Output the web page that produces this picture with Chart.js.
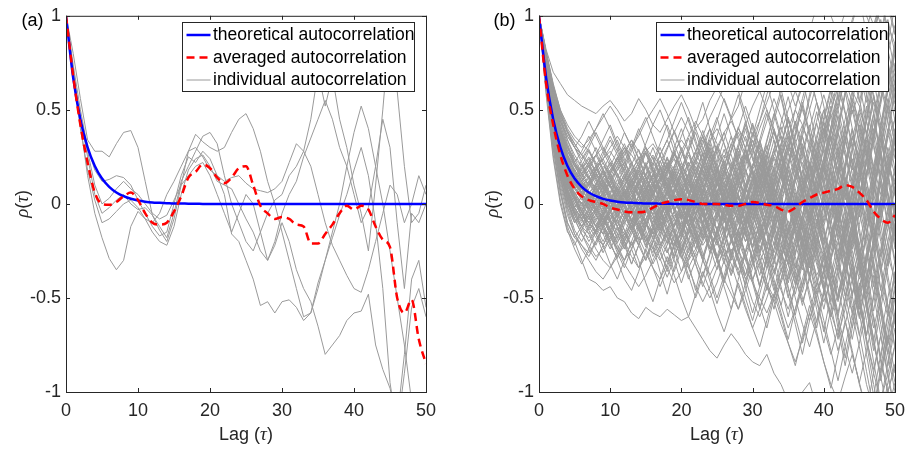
<!DOCTYPE html>
<html><head><meta charset="utf-8">
<script src="https://cdn.jsdelivr.net/npm/chart.js@4/dist/chart.umd.min.js"></script>
<style>
html,body{margin:0;padding:0;background:#fff;width:913px;height:451px;overflow:hidden}
canvas{position:absolute;top:0}
#c1{left:0}#c2{left:456px}
</style></head>
<body>
<canvas id="c1" width="456" height="451" style="width:456px;height:451px"></canvas>
<canvas id="c2" width="457" height="451" style="width:457px;height:451px"></canvas>
<script>
// ---------- data ----------
const lags = [0,1,2,3,4,5,6,7,8,9,10,11,12,13,14,15,16,17,18,19,20,21,22,23,24,25,26,27,28,29,30,31,32,33,34,35,36,37,38,39,40,41,42,43,44,45,46,47,48,49,50];
const xTicks = [0,10,20,30,40,50];
const xTickLabels = ['0','10','20','30','40','50'];
const yTicks = [-1,-0.5,0,0.5,1];
const yTickLabels = ['-1','-0.5','0','0.5','1'];
const legendLabels = ['theoretical autocorrelation','averaged autocorrelation','individual autocorrelation'];
const panelLabels = ['(a)','(b)'];

const theoretical = [1,0.670,0.449,0.301,0.202,0.135,0.091,0.061,0.041,0.027,
 0.018,0.012,0.008,0.006,0.004,0.002,0.002,0.001,0.001,0,
 0,0,0,0,0,0,0,0,0,0, 0,0,0,0,0,0,0,0,0,0, 0,0,0,0,0,0,0,0,0,0, 0];

// panel (a)
const averagedA = [1,0.68,0.42,0.22,0.06,0.0,-0.005,0.01,0.04,0.06,
 0.02,-0.05,-0.1,-0.11,-0.1,-0.04,0.04,0.14,0.17,0.21,
 0.19,0.14,0.11,0.14,0.19,0.2,0.1,-0.01,-0.05,-0.08,
 -0.07,-0.08,-0.11,-0.12,-0.21,-0.21,-0.16,-0.11,-0.05,-0.01,
 -0.03,-0.01,-0.03,-0.12,-0.19,-0.23,-0.5,-0.58,-0.51,-0.72,
 -0.85];
const a1 = [1,0.80,0.56,0.34,0.28,0.28,0.25,0.32,0.38,0.39,
 0.30,0.12,-0.06,-0.14,-0.20,-0.08,0.10,0.28,0.37,0.33,
 0.30,0.28,0.30,0.38,0.45,0.48,0.40,0.28,0.12,0.00,
 -0.15,-0.30,-0.45,-0.60,-0.58,-0.42,-0.30,-0.18,-0.06,0.05,
 0.18,0.30,0.15,-0.10,-0.45,-0.95,-1.2,-0.9,-0.55,-0.45,
 -0.6];
const a2 = [1,0.72,0.42,0.15,-0.05,-0.18,-0.29,-0.35,-0.30,-0.12,
 -0.04,-0.08,-0.10,-0.05,0.05,0.12,0.20,0.28,0.30,0.25,
 0.18,0.15,0.12,0.14,0.15,0.11,0.08,0.07,0.06,0.08,
 0.12,0.22,0.32,0.28,0.20,0.05,-0.10,-0.22,-0.30,-0.38,
 -0.45,-0.47,-0.35,-0.20,-0.05,0.10,0.05,-0.10,0.00,0.15,
 0.05];
const a3 = [1,0.74,0.50,0.30,0.18,0.12,0.13,0.15,0.14,0.10,
 0.02,-0.05,-0.12,-0.17,-0.15,0.00,0.15,0.25,0.22,0.28,
 0.24,0.15,0.05,-0.16,-0.20,-0.30,-0.40,-0.54,-0.52,-0.58,
 -0.52,-0.51,-0.55,-0.62,-0.58,-0.45,-0.30,-0.15,0.00,0.20,
 0.38,0.52,0.40,0.20,0.00,-0.25,-0.50,-0.75,-1.05,-1.2,
 -1.1];
const a4 = [1,0.70,0.46,0.25,0.05,-0.05,-0.02,0.02,0.05,0.00,
 -0.03,-0.02,-0.06,-0.12,-0.18,-0.05,0.12,0.20,0.28,0.36,
 0.38,0.32,0.15,0.00,-0.10,-0.20,-0.25,-0.15,-0.05,0.02,
 0.05,0.15,0.20,0.28,0.45,0.70,0.52,0.68,0.45,0.30,
 0.10,-0.05,-0.25,0.10,0.50,0.95,0.60,0.20,-0.10,-0.05,
 0.10];
const a5 = [1,0.68,0.40,0.18,0.02,-0.10,-0.08,-0.04,0.00,0.02,
 -0.02,-0.08,-0.15,-0.20,-0.22,-0.12,0.05,0.18,0.24,0.26,
 0.20,0.12,0.10,0.08,0.00,-0.08,-0.15,-0.25,-0.30,-0.22,
 -0.10,-0.20,-0.35,-0.45,-0.52,-0.65,-0.80,-0.75,-0.70,-0.62,
 -0.58,-0.57,-0.48,-0.75,-0.88,-0.98,-1.15,-0.80,-0.40,-0.30,
 -0.55];
const a6 = [1,0.66,0.44,0.28,0.10,0.00,0.03,0.08,0.12,0.08,
 0.05,0.00,-0.05,-0.08,-0.06,0.02,0.10,0.15,0.20,0.22,
 0.15,0.05,-0.05,-0.15,-0.05,0.05,0.00,-0.15,-0.30,-0.20,
 -0.05,0.05,0.12,0.25,0.35,0.45,0.55,0.45,0.30,0.20,
 0.05,-0.10,-0.02,0.20,0.45,0.30,-0.10,-0.45,-0.05,-0.10,
 0.00];
const individualA = [a1,a2,a3,a4,a5,a6];

// panel (b)
const averagedB = [1,0.64,0.42,0.26,0.15,0.08,0.04,0.02,0.01,0.0,
 -0.02,-0.03,-0.04,-0.045,-0.045,-0.04,-0.02,0.0,0.01,0.02,
 0.025,0.02,0.01,0.0,0.0,0.0,-0.005,-0.01,-0.01,0.0,
 0.01,0.005,-0.005,-0.01,-0.03,-0.04,-0.02,0.01,0.03,0.05,
 0.06,0.07,0.08,0.1,0.09,0.06,0.02,-0.04,-0.08,-0.1,
 -0.06];
const b01=[1,.82,.70,.64,.58,.55,.52,.50,.48,.52,.55,.50,.44,.48,.56,.50,.42,.38,.45,.52,.58,.50,.40,.45,.55,.62,.55,.45,.52,.66,.75,.68,.60,.72,.86,.95,.88,.80,.92,1.05,1.1,1.0,.9,1.02,1.1,1.15,1.05,.95,1.08,1.2,1.1];
const b02=[1,.58,.24,.00,-.15,-.20,-.30,-.40,-.42,-.46,-.44,-.50,-.52,-.58,-.61,-.55,-.58,-.60,-.56,-.59,-.62,-.60,-.66,-.72,-.78,-.82,-.75,-.69,-.74,-.80,-.84,-.86,-.80,-.90,-.96,-1.05,-1.1,-1.0,-.95,-1.08,-1.15,-1.2,-1.1,-1.05,-1.15,-1.2,-1.25,-1.1,-1.2,-1.3,-1.2];
const b03=[1,.75,.52,.34,.20,.12,.05,-.02,-.08,-.05,.02,.10,.15,.08,-.02,-.10,-.16,-.08,.04,.12,.20,.14,.05,-.06,-.15,-.22,-.14,-.02,.10,.22,.30,.20,.08,-.05,-.20,-.32,-.22,-.08,.10,.28,.40,.30,.12,-.05,-.25,-.40,-.30,-.10,.15,.35,.45];
const b04=[1,.70,.45,.25,.10,.02,-.06,-.12,-.18,-.22,-.15,-.05,.04,.10,.05,-.03,-.12,-.20,-.26,-.18,-.06,.05,.12,.18,.10,-.02,-.15,-.28,-.35,-.25,-.10,.05,.15,.25,.18,.05,-.10,-.25,-.40,-.48,-.35,-.18,.02,.20,.35,.25,.05,-.20,-.45,-.60,-.50];
const b05=[1,.78,.60,.46,.36,.30,.26,.22,.18,.14,.18,.24,.30,.26,.20,.14,.08,.12,.20,.28,.34,.28,.18,.10,.04,.10,.20,.32,.40,.34,.24,.12,.04,.12,.26,.40,.50,.42,.30,.18,.05,.12,.28,.45,.60,.52,.38,.20,.05,.20,.40];
const b06=[1,.65,.38,.18,.04,-.06,-.14,-.18,-.14,-.06,.02,.08,.04,-.04,-.12,-.18,-.24,-.30,-.22,-.12,-.04,-.10,-.20,-.30,-.38,-.30,-.18,-.06,.05,-.04,-.16,-.30,-.42,-.50,-.40,-.26,-.12,.00,-.12,-.28,-.45,-.60,-.48,-.30,-.12,-.30,-.55,-.75,-.90,-.70,-.45];
const b07=[1,.72,.48,.30,.18,.10,.06,.04,.08,.14,.20,.16,.08,.02,-.04,.02,.10,.18,.24,.18,.08,-.02,-.10,-.04,.08,.18,.26,.20,.10,.00,-.12,-.20,-.10,.04,.18,.30,.22,.08,-.08,-.22,-.35,-.20,-.02,.18,.35,.50,.38,.18,-.05,-.28,-.40];
const b08=[1,.80,.62,.48,.38,.30,.22,.14,.06,.00,-.06,-.10,-.04,.04,.12,.20,.26,.20,.12,.04,-.04,-.12,-.20,-.14,-.04,.06,.16,.28,.38,.30,.18,.06,-.06,-.18,-.28,-.16,-.02,.14,.30,.44,.58,.45,.28,.10,-.08,-.25,-.42,-.30,-.10,.12,.30];
const b09=[1,.68,.40,.20,.06,-.04,-.10,-.06,.00,.06,.12,.18,.22,.16,.08,.00,-.08,-.14,-.08,.00,.10,.20,.28,.36,.28,.18,.06,-.06,-.16,-.26,-.18,-.06,.08,.20,.32,.44,.34,.20,.04,-.10,-.24,-.38,-.50,-.38,-.22,-.05,.15,.35,.55,.70,.60];
const b10=[1,.74,.50,.32,.16,.04,-.08,-.16,-.24,-.30,-.34,-.28,-.20,-.12,-.18,-.26,-.34,-.40,-.32,-.22,-.14,-.22,-.32,-.42,-.50,-.42,-.30,-.20,-.28,-.40,-.52,-.60,-.50,-.38,-.26,-.36,-.50,-.64,-.76,-.62,-.46,-.30,-.45,-.62,-.80,-.95,-.78,-.60,-.82,-1.0,-.85];
const b11=[1,.76,.55,.40,.30,.24,.20,.22,.26,.30,.24,.16,.08,.02,.06,.12,.18,.14,.06,-.02,-.08,-.02,.06,.14,.22,.30,.38,.44,.36,.26,.16,.08,.16,.26,.38,.50,.60,.50,.38,.24,.12,.26,.42,.58,.72,.86,.74,.58,.42,.60,.80];
const b12=[1,.66,.36,.14,.00,-.08,-.12,-.08,-.02,-.08,-.16,-.24,-.30,-.24,-.16,-.08,-.02,.04,-.04,-.14,-.22,-.30,-.24,-.14,-.04,.06,.00,-.10,-.20,-.30,-.40,-.32,-.20,-.10,.02,.14,.04,-.10,-.24,-.38,-.30,-.18,-.04,.10,.24,.10,-.10,-.32,-.55,-.75,-.60];
const b13=[1,.71,.46,.28,.14,.08,.04,.10,.16,.12,.04,-.04,-.10,-.14,-.08,.00,.08,.14,.20,.26,.20,.12,.04,-.04,-.12,-.20,-.28,-.20,-.10,.02,.12,.22,.30,.38,.28,.14,.00,-.14,-.28,-.40,-.52,-.40,-.26,-.12,.02,.18,.36,.54,.40,.22,.05];
const b14=[1,.79,.60,.44,.32,.22,.12,.04,-.02,-.08,-.04,.04,.10,.16,.22,.28,.32,.26,.18,.10,.04,.10,.18,.26,.34,.40,.32,.22,.12,.02,-.08,.02,.14,.26,.36,.28,.16,.04,.16,.30,.46,.62,.50,.34,.18,.36,.58,.80,.98,.82,.64];
const b15=[1,.64,.34,.12,-.04,-.16,-.24,-.30,-.36,-.40,-.34,-.26,-.18,-.10,-.04,-.10,-.18,-.26,-.34,-.42,-.36,-.28,-.20,-.12,-.20,-.30,-.40,-.48,-.56,-.46,-.34,-.22,-.30,-.42,-.54,-.66,-.56,-.44,-.30,-.16,-.28,-.44,-.60,-.76,-.90,-.74,-.56,-.38,-.58,-.80,-1.0];
const b16=[1,.73,.50,.34,.22,.16,.10,.06,.02,.06,.12,.06,-.02,-.08,-.14,-.20,-.14,-.06,.02,.08,.02,-.06,-.14,-.22,-.16,-.06,.04,.12,.04,-.06,-.16,-.26,-.34,-.24,-.12,.00,.12,.22,.12,.00,-.14,-.28,-.18,-.04,.12,.28,.44,.30,.14,-.04,-.22];
const b17=[1,.69,.44,.26,.14,.10,.12,.16,.20,.24,.28,.22,.14,.06,.00,.04,.10,.16,.10,.02,-.06,-.12,-.06,.02,.10,.18,.10,.00,-.10,-.20,-.12,.00,.12,.24,.16,.04,-.08,-.20,-.32,-.22,-.08,.08,.24,.40,.56,.44,.28,.12,-.06,.14,.34];
const b18=[1,.77,.56,.38,.24,.14,.06,.00,-.06,-.12,-.18,-.14,-.08,-.02,.04,.10,.04,-.04,-.12,-.20,-.28,-.34,-.26,-.16,-.06,.04,.14,.06,-.04,-.14,-.24,-.34,-.44,-.52,-.42,-.30,-.18,-.06,-.18,-.32,-.46,-.58,-.70,-.56,-.40,-.24,-.42,-.62,-.84,-1.0,-.86];
const b19=[1,.67,.42,.24,.10,.00,-.04,.02,.08,.14,.10,.04,.00,.04,.10,.16,.22,.16,.08,.00,.06,.14,.22,.30,.22,.12,.02,-.08,-.02,.08,.18,.28,.20,.08,-.04,-.16,-.06,.08,.22,.36,.50,.40,.26,.10,-.06,-.22,-.38,-.22,-.04,.16,.34];
const b20=[1,.72,.47,.27,.12,.02,-.06,-.10,-.14,-.10,-.04,.02,.06,.02,-.04,-.10,-.16,-.10,-.02,.06,.14,.22,.16,.06,-.04,-.14,-.06,.04,.14,.24,.34,.26,.14,.02,-.10,-.22,-.34,-.22,-.08,.06,.20,.10,-.06,-.22,-.40,-.56,-.40,-.20,.00,.22,.10];
const b21=[1,.81,.64,.50,.40,.34,.30,.34,.40,.46,.52,.46,.38,.30,.36,.44,.50,.56,.48,.38,.28,.20,.28,.36,.46,.54,.62,.70,.60,.48,.36,.44,.54,.64,.74,.64,.52,.62,.74,.86,.96,.86,.74,.84,.98,1.1,1.0,.9,1.05,1.15,1.05];
const b22=[1,.63,.32,.08,-.10,-.18,-.22,-.26,-.20,-.12,-.06,-.12,-.20,-.28,-.34,-.28,-.20,-.12,-.06,-.14,-.24,-.34,-.44,-.52,-.44,-.34,-.24,-.32,-.44,-.56,-.66,-.56,-.44,-.52,-.64,-.74,-.84,-.72,-.58,-.70,-.84,-.96,-1.05,-.92,-.8,-.95,-1.1,-1.2,-1.1,-1.0,-1.15];
const b23=[1,.74,.52,.36,.26,.20,.18,.14,.08,.02,-.04,.00,.06,.12,.18,.12,.04,-.04,-.10,-.04,.04,.12,.06,-.04,-.12,-.04,.08,.18,.26,.18,.08,-.04,-.14,-.04,.08,.20,.32,.42,.32,.18,.04,-.10,.04,.20,.36,.22,.04,-.16,-.36,-.20,.00];
const b24=[1,.70,.44,.22,.06,-.02,-.08,-.04,.02,-.04,-.10,-.14,-.10,-.04,.02,.08,.02,-.06,-.14,-.22,-.16,-.06,.04,.12,.20,.12,.02,-.08,-.18,-.10,.02,.14,.04,-.08,-.20,-.32,-.42,-.32,-.18,-.04,.10,.24,.38,.26,.12,-.02,.16,.36,.56,.74,.60];
const b25=[1,.75,.54,.38,.28,.22,.16,.10,.06,.10,.16,.22,.28,.34,.28,.20,.12,.06,.12,.20,.28,.36,.44,.36,.26,.16,.06,-.04,.06,.16,.28,.40,.50,.40,.28,.14,.00,-.14,-.04,.10,.24,.38,.52,.66,.54,.40,.24,.08,.28,.50,.70];
const b26=[1,.66,.38,.16,.02,-.08,-.16,-.22,-.28,-.24,-.18,-.24,-.32,-.38,-.44,-.38,-.30,-.22,-.14,-.06,-.12,-.20,-.28,-.20,-.10,.00,-.08,-.18,-.30,-.40,-.32,-.20,-.08,.04,-.08,-.22,-.36,-.50,-.62,-.50,-.36,-.20,-.04,-.18,-.36,-.54,-.72,-.88,-.70,-.50,-.30];
const b27=[1,.78,.58,.42,.30,.20,.14,.10,.14,.20,.16,.10,.04,-.02,-.08,-.02,.06,.12,.18,.24,.18,.10,.02,-.06,.02,.10,.18,.10,.00,-.12,-.22,-.12,.00,.12,.24,.36,.26,.12,-.02,-.16,-.30,-.44,-.32,-.16,.00,.16,.32,.48,.64,.50,.32];
const b28=[1,.68,.43,.25,.12,.04,.00,-.02,.02,.08,.04,-.02,-.08,-.04,.02,.08,.14,.08,.00,-.08,-.16,-.24,-.18,-.10,-.02,.06,.14,.22,.14,.04,-.06,-.16,-.26,-.36,-.26,-.14,-.02,.10,.22,.12,-.02,-.16,-.30,-.44,-.58,-.44,-.28,-.10,.10,.30,.15];
const b29=[1,.73,.49,.31,.18,.10,.08,.12,.18,.24,.30,.36,.30,.22,.14,.08,.14,.22,.30,.38,.46,.38,.28,.18,.10,.02,.10,.20,.32,.42,.52,.60,.50,.38,.26,.14,.24,.36,.50,.64,.76,.88,.76,.62,.48,.60,.76,.92,1.05,.95,.85];
const b30=[1,.65,.36,.14,-.02,-.10,-.06,.00,-.06,-.14,-.22,-.28,-.22,-.14,-.06,.00,.06,.00,-.08,-.16,-.24,-.16,-.06,.04,.14,.06,-.04,-.14,-.24,-.34,-.42,-.50,-.58,-.48,-.36,-.24,-.12,-.24,-.38,-.52,-.66,-.80,-.66,-.50,-.34,-.52,-.72,-.90,-1.05,-.9,-.75];
const b31=[1,.77,.57,.40,.26,.16,.08,.02,.06,.12,.18,.24,.18,.10,.04,-.02,-.08,-.02,.06,.14,.08,.00,-.08,-.16,-.24,-.16,-.06,.06,.16,.26,.18,.08,-.02,-.12,-.22,-.32,-.20,-.06,.08,.22,.36,.50,.62,.48,.32,.16,-.02,-.20,-.04,.16,.36];
const b32=[1,.71,.45,.26,.12,.02,-.04,-.08,-.12,-.16,-.12,-.06,.00,.06,.12,.06,-.02,-.10,-.18,-.12,-.04,.04,.12,.20,.28,.20,.10,.00,-.10,-.02,.10,.20,.12,.00,-.14,-.28,-.40,-.52,-.40,-.26,-.12,.04,.20,.06,-.12,-.32,-.52,-.72,-.92,-1.1,-.95];
const b33=[1,.80,.63,.50,.42,.36,.32,.28,.22,.16,.10,.04,.10,.18,.24,.30,.24,.16,.08,.02,.08,.16,.24,.16,.06,-.04,-.14,-.06,.06,.18,.10,-.02,-.14,-.26,-.16,-.02,.12,.26,.40,.54,.44,.30,.16,.34,.54,.74,.92,1.08,.95,.8,.95];
const b34=[1,.69,.41,.20,.05,-.05,-.12,-.16,-.12,-.08,-.14,-.20,-.16,-.10,-.04,-.10,-.16,-.22,-.16,-.08,.00,.08,.00,-.10,-.20,-.30,-.22,-.12,-.02,.08,.00,-.10,-.22,-.34,-.46,-.56,-.44,-.30,-.16,-.30,-.46,-.62,-.78,-.64,-.48,-.32,-.16,-.34,-.54,-.76,-.95];
const b35=[1,.74,.51,.33,.20,.12,.08,.06,.10,.16,.22,.16,.10,.04,.10,.16,.10,.02,-.06,.00,.08,.16,.24,.32,.40,.32,.22,.12,.02,.10,.20,.32,.44,.56,.46,.34,.20,.06,-.08,.06,.22,.38,.54,.70,.84,.70,.54,.72,.90,1.05,.9];
const b36=[1,.70,.46,.28,.16,.08,.02,.04,.08,.02,-.04,-.10,-.16,-.22,-.16,-.08,-.02,.04,.10,.04,-.04,-.12,-.06,.02,.10,.02,-.08,-.18,-.28,-.38,-.28,-.16,-.04,.08,.20,.10,-.04,-.18,-.32,-.46,-.36,-.22,-.08,.08,-.08,-.26,-.46,-.66,-.50,-.30,-.10];
const c01=[1,.76,.50,.30,.16,.10,.14,.06,-.04,.04,.12,.04,-.06,.02,.14,.22,.12,.02,.10,.20,.10,-.02,.08,.20,.30,.18,.06,.16,.28,.14,.00,.12,.26,.10,-.06,.08,.24,.36,.20,.04,.18,.36,.22,.02,.20,.42,.26,.06,.30,.52,.36];
const c02=[1,.69,.40,.18,.02,-.10,-.04,-.14,-.22,-.12,-.02,-.12,-.24,-.14,-.04,-.16,-.28,-.18,-.06,.04,-.08,-.20,-.10,.04,-.06,-.20,-.32,-.18,-.04,-.16,-.30,-.44,-.28,-.12,-.24,-.40,-.26,-.08,-.22,-.40,-.56,-.38,-.20,-.36,-.54,-.70,-.50,-.30,-.52,-.74,-.58];
const c03=[1,.73,.52,.38,.30,.22,.28,.36,.28,.18,.26,.34,.24,.12,.20,.30,.20,.08,.18,.30,.40,.28,.14,.24,.36,.46,.32,.18,.30,.44,.30,.14,.28,.44,.58,.40,.22,.38,.56,.70,.52,.34,.50,.68,.84,.64,.44,.62,.82,.98,.80];
const c04=[1,.62,.30,.06,-.12,-.22,-.14,-.06,-.16,-.26,-.18,-.08,-.20,-.32,-.22,-.10,-.22,-.36,-.48,-.34,-.20,-.32,-.46,-.30,-.16,-.30,-.44,-.56,-.40,-.26,-.40,-.54,-.66,-.50,-.34,-.48,-.64,-.80,-.62,-.46,-.62,-.78,-.94,-.76,-.58,-.76,-.96,-1.1,-.9,-.7,-.9];
const c05=[1,.71,.46,.26,.12,.06,.00,.08,.16,.08,-.02,.06,.14,.22,.12,.00,.10,.20,.08,-.04,.06,.16,.04,-.10,.02,.14,.02,-.12,-.02,.10,-.04,-.18,-.06,.08,-.06,-.22,-.08,.08,.22,.06,-.10,.06,.24,.40,.22,.04,.24,.44,.26,.06,-.14];
const c06=[1,.78,.58,.44,.36,.30,.24,.30,.38,.30,.22,.14,.22,.32,.24,.14,.06,.14,.24,.14,.04,-.06,.04,.16,.26,.14,.02,.12,.24,.36,.24,.10,-.04,.10,.24,.38,.22,.06,-.10,.06,.22,.40,.24,.06,-.14,.04,.24,.44,.64,.44,.24];
const c07=[1,.66,.38,.18,.06,-.02,-.08,-.02,.06,-.02,-.10,-.18,-.08,.02,-.08,-.18,-.26,-.16,-.04,.06,-.04,-.16,-.06,.06,.16,.04,-.08,-.20,-.08,.06,.18,.06,-.08,-.22,-.08,.08,.22,.08,-.08,-.24,-.40,-.22,-.04,.14,-.04,-.24,-.44,-.24,-.04,.18,.40];
const c08=[1,.74,.48,.28,.14,.04,-.04,-.12,-.06,.02,.10,.02,-.06,-.14,-.22,-.12,-.02,.08,-.02,-.14,-.26,-.14,-.02,.10,.20,.08,-.06,-.18,-.06,.08,.20,.32,.18,.04,-.10,-.24,-.10,.06,.20,.34,.18,.00,-.18,-.36,-.18,.02,.22,.02,-.20,-.42,-.64];
const c09=[1,.80,.60,.46,.34,.24,.16,.10,.18,.26,.34,.26,.18,.28,.38,.46,.36,.26,.34,.44,.54,.44,.32,.22,.32,.44,.56,.46,.34,.24,.36,.50,.64,.50,.36,.22,.36,.52,.68,.54,.38,.56,.74,.90,.72,.54,.72,.92,1.1,.9,.7];
const c10=[1,.60,.26,.02,-.14,-.24,-.32,-.24,-.14,-.22,-.32,-.40,-.30,-.20,-.30,-.42,-.52,-.40,-.28,-.38,-.50,-.60,-.48,-.36,-.46,-.58,-.68,-.56,-.42,-.54,-.66,-.76,-.62,-.48,-.60,-.74,-.86,-.70,-.54,-.68,-.84,-.98,-.80,-.62,-.78,-.96,-1.1,-.9,-.7,-.9,-1.1];
const c11=[1,.72,.50,.34,.22,.14,.20,.28,.20,.10,.02,.10,.20,.10,-.02,-.12,-.02,.10,.22,.12,.00,-.12,-.24,-.12,.00,.12,.24,.36,.24,.10,-.04,.10,.24,.40,.26,.10,-.06,-.22,-.06,.12,.30,.48,.30,.10,-.10,-.30,-.10,.12,.34,.56,.36];
const c12=[1,.67,.41,.22,.08,-.02,.04,.12,.04,-.06,-.16,-.26,-.34,-.24,-.12,-.02,-.12,-.24,-.36,-.26,-.14,-.02,.10,-.02,-.14,-.28,-.40,-.28,-.14,-.28,-.42,-.56,-.40,-.24,-.08,-.22,-.38,-.54,-.38,-.20,-.02,-.18,-.36,-.54,-.72,-.52,-.32,-.12,-.32,-.54,-.76];
const c13=[1,.77,.55,.38,.25,.16,.08,.02,.10,.18,.10,.00,-.08,.02,.12,.04,-.06,-.14,-.04,.06,.16,.26,.16,.04,-.08,-.18,-.06,.06,.18,.30,.42,.30,.16,.02,.16,.30,.44,.30,.14,.28,.44,.60,.44,.26,.08,.26,.46,.66,.46,.26,.06];
const c14=[1,.70,.44,.24,.08,-.04,-.12,-.20,-.14,-.06,-.14,-.24,-.16,-.06,.04,.14,.04,-.08,.02,.12,.22,.12,.00,-.12,-.24,-.14,-.02,.10,-.02,-.16,-.30,-.18,-.04,.10,.24,.10,-.06,-.22,-.38,-.22,-.06,.12,.30,.12,-.08,-.28,-.48,-.28,-.06,.16,.38];
const c15=[1,.75,.53,.36,.24,.18,.12,.18,.26,.34,.42,.32,.22,.14,.22,.32,.42,.50,.40,.28,.18,.28,.40,.30,.18,.06,.16,.28,.40,.52,.40,.26,.12,-.02,.12,.28,.42,.56,.70,.54,.38,.20,.38,.58,.76,.56,.36,.16,.38,.60,.82];
const c16=[1,.64,.35,.14,-.02,-.14,-.20,-.12,-.02,-.10,-.20,-.30,-.40,-.46,-.36,-.24,-.34,-.44,-.34,-.22,-.10,-.20,-.32,-.44,-.32,-.18,-.04,-.16,-.30,-.44,-.58,-.44,-.28,-.14,-.28,-.44,-.60,-.74,-.58,-.42,-.26,-.44,-.62,-.82,-.62,-.42,-.62,-.84,-1.05,-.85,-.6];
const c17=[1,.72,.48,.30,.18,.12,.06,.00,.06,.12,.06,-.02,.06,.14,.06,-.04,.04,.12,.20,.10,.00,-.10,-.02,.08,-.04,-.14,-.04,.08,.20,.10,-.02,-.14,-.04,.08,.20,.32,.18,.04,-.10,.04,.20,.04,-.14,-.32,-.14,.04,.22,.40,.20,.00,-.20];
const c18=[1,.79,.61,.47,.38,.32,.26,.20,.14,.08,.16,.24,.16,.06,-.04,.06,.16,.26,.16,.04,-.08,.04,.16,.28,.40,.28,.16,.04,-.08,-.20,-.08,.06,.20,.34,.20,.04,-.12,.02,.18,.34,.50,.34,.16,-.04,-.24,-.04,.16,.36,.56,.76,.56];
const c19=[1,.68,.42,.22,.08,.00,-.06,.02,.10,.18,.10,.02,-.06,-.14,-.06,.04,-.06,-.16,-.26,-.16,-.04,.08,.20,.10,-.02,-.14,-.26,-.38,-.26,-.12,.02,-.12,-.26,-.40,-.54,-.38,-.22,-.06,.10,-.06,-.24,-.42,-.60,-.40,-.20,.00,-.20,-.42,-.64,-.86,-.66];
const c20=[1,.74,.50,.32,.20,.14,.08,.14,.20,.12,.04,-.04,.04,.12,.20,.28,.18,.08,-.02,.08,.18,.28,.38,.26,.14,.02,-.10,.02,.14,.02,-.12,-.26,-.12,.02,.16,.30,.44,.28,.12,-.04,-.20,-.04,.14,.32,.50,.32,.12,-.08,-.28,-.08,.14];
const c21=[1,.65,.37,.17,.04,-.06,-.02,.06,.00,-.08,-.16,-.08,.02,.12,.04,-.06,-.16,-.06,.06,.16,.06,-.06,-.18,-.30,-.18,-.06,.06,.18,.30,.18,.04,-.10,-.24,-.10,.04,-.12,-.28,-.44,-.28,-.12,.04,.20,.04,-.14,-.32,-.50,-.30,-.10,.12,-.10,-.32];
const c22=[1,.76,.54,.38,.26,.18,.12,.06,.00,.06,.14,.22,.30,.20,.10,.00,-.10,-.02,.08,.18,.28,.18,.06,-.06,-.18,-.08,.04,.16,.04,-.10,-.24,-.38,-.24,-.10,.04,.18,.04,-.12,-.28,-.44,-.28,-.10,.08,-.10,-.30,-.50,-.70,-.50,-.30,-.08,-.30];
const c23=[1,.71,.47,.29,.16,.08,.12,.18,.10,.00,-.08,-.16,-.24,-.16,-.06,.04,.12,.20,.10,-.02,-.12,-.02,.10,.22,.34,.22,.08,-.06,-.20,-.08,.06,.20,.34,.48,.34,.18,.02,-.14,.02,.20,.38,.56,.38,.18,-.02,-.22,-.02,.20,.42,.64,.86];
const c24=[1,.63,.33,.10,-.06,-.16,-.22,-.28,-.20,-.12,-.04,-.12,-.22,-.32,-.22,-.12,-.02,.06,-.04,-.16,-.28,-.40,-.30,-.18,-.06,-.18,-.30,-.44,-.56,-.42,-.28,-.14,-.28,-.44,-.58,-.72,-.56,-.40,-.24,-.08,-.26,-.46,-.66,-.86,-.66,-.46,-.26,-.48,-.70,-.92,-1.1];
const c25=[1,.77,.57,.42,.31,.22,.16,.22,.30,.22,.14,.06,-.02,.08,.18,.10,.00,-.08,.02,.12,.02,-.10,.02,.14,.26,.14,.00,-.12,-.26,-.14,.00,.14,.28,.14,-.02,-.18,-.34,-.18,-.02,.14,.30,.12,-.08,-.28,-.48,-.28,-.06,.16,.38,.16,-.06];
const c26=[1,.69,.43,.24,.11,.04,-.02,-.08,-.02,.06,.14,.06,-.04,-.12,-.04,.06,.16,.26,.34,.24,.12,.00,.10,.22,.12,-.02,-.16,-.04,.10,.24,.38,.24,.08,-.08,.06,.22,.38,.54,.38,.20,.02,.20,.40,.60,.40,.18,-.04,.18,.40,.62,.84];
const c27=[1,.73,.50,.33,.21,.14,.10,.04,-.02,-.10,-.02,.08,.00,-.10,-.20,-.30,-.20,-.08,-.18,-.30,-.42,-.30,-.16,-.04,-.16,-.30,-.18,-.04,.10,-.04,-.18,-.32,-.46,-.30,-.14,.02,-.14,-.32,-.50,-.66,-.48,-.30,-.12,.06,-.14,-.34,-.56,-.78,-.56,-.34,-.12];
const c28=[1,.80,.62,.48,.38,.30,.36,.44,.36,.28,.20,.28,.38,.30,.20,.10,.20,.30,.20,.08,.18,.30,.42,.54,.40,.26,.12,.00,.14,.28,.16,.02,-.12,.02,.18,.34,.50,.66,.50,.32,.14,-.04,.16,.38,.58,.80,.58,.36,.14,.38,.62];
const c29=[1,.67,.40,.20,.06,-.02,.04,-.04,-.12,-.04,.06,.16,.06,-.04,-.14,-.04,.08,-.04,-.16,-.28,-.18,-.06,.06,.18,.06,-.08,-.22,-.36,-.22,-.08,.06,.20,.06,-.10,-.26,-.42,-.26,-.10,.06,.22,.06,-.12,-.30,-.48,-.66,-.46,-.26,-.04,.18,.40,.18];
const c30=[1,.75,.52,.35,.22,.14,.08,.02,-.04,.04,.12,.20,.12,.02,.10,.20,.30,.20,.10,-.02,-.14,-.04,.08,-.04,-.16,-.06,.06,.18,.30,.42,.30,.16,.02,.16,.30,.14,-.02,-.18,-.34,-.18,.00,.18,.00,-.20,-.40,-.60,-.40,-.18,.04,.26,.04];
const c31=[1,.64,.36,.16,.02,-.08,-.16,-.24,-.30,-.22,-.14,-.22,-.30,-.20,-.10,-.20,-.32,-.24,-.14,-.04,.06,-.04,-.14,-.26,-.38,-.50,-.38,-.24,-.36,-.50,-.62,-.48,-.34,-.20,-.34,-.50,-.36,-.20,-.04,-.20,-.36,-.54,-.72,-.52,-.32,-.52,-.74,-.96,-1.15,-.95,-.75];
const c32=[1,.71,.48,.31,.19,.12,.18,.24,.16,.08,.16,.24,.32,.22,.12,.02,-.06,.04,.14,.04,-.06,-.16,-.06,.06,.18,.30,.20,.08,-.04,.08,.20,.34,.48,.34,.20,.06,-.08,.06,.22,.06,-.12,-.30,-.12,.08,.28,.48,.28,.06,-.16,-.38,-.60];
const c33=[1,.78,.59,.44,.34,.26,.20,.14,.20,.28,.36,.28,.20,.12,.04,.12,.22,.32,.42,.32,.22,.12,.02,.12,.24,.36,.48,.36,.22,.08,.20,.34,.20,.04,-.12,.04,.20,.36,.20,.02,.20,.40,.60,.80,.60,.38,.16,.38,.62,.86,1.05];
const c34=[1,.66,.38,.17,.03,-.06,-.12,-.06,.02,.10,.02,-.08,-.18,-.10,.00,.10,.00,-.12,-.24,-.36,-.24,-.12,.00,-.12,-.26,-.14,-.02,.10,.22,.10,-.04,-.18,-.32,-.46,-.30,-.14,.02,.18,.02,-.16,-.34,-.52,-.34,-.14,.06,-.16,-.38,-.60,-.82,-.60,-.38];
const c35=[1,.70,.45,.27,.15,.09,.04,.10,.16,.22,.14,.06,-.02,-.10,-.02,.08,.16,.08,-.02,-.12,-.02,.10,.22,.34,.22,.10,.20,.32,.20,.06,-.08,.06,.20,.06,-.10,-.26,-.40,-.24,-.08,.08,.24,.08,-.10,.10,.30,.50,.70,.48,.26,.04,-.18];
const c36=[1,.74,.51,.34,.22,.14,.06,-.02,-.10,-.16,-.08,.00,.08,.00,-.10,-.20,-.12,-.02,.08,.18,.08,-.04,-.16,-.28,-.16,-.04,-.14,-.26,-.38,-.26,-.12,.02,-.12,-.28,-.44,-.60,-.44,-.28,-.12,.04,.20,.02,-.18,-.38,-.58,-.38,-.16,.06,.28,.06,-.16];
const c37=[1,.81,.63,.49,.39,.32,.26,.32,.40,.48,.40,.30,.20,.30,.40,.30,.18,.06,.16,.26,.36,.46,.34,.22,.10,.22,.34,.46,.58,.44,.30,.44,.58,.72,.56,.40,.24,.40,.58,.76,.94,.76,.56,.76,.96,1.1,.9,.7,.9,1.1,.9];
const c38=[1,.61,.29,.06,-.10,-.18,-.12,-.04,-.12,-.20,-.12,-.02,.08,-.02,-.12,-.22,-.12,-.02,-.12,-.24,-.36,-.24,-.12,.00,.12,.00,-.14,-.28,-.14,.00,.14,.00,-.16,-.32,-.16,.00,.16,.32,.14,-.04,-.22,-.40,-.58,-.38,-.18,.04,.26,.48,.24,.00,-.24];
const c39=[1,.72,.49,.32,.20,.12,.06,.00,.06,.14,.22,.14,.06,-.02,-.10,-.18,-.10,.00,.10,.20,.30,.20,.08,.18,.30,.18,.04,-.10,-.24,-.38,-.24,-.10,.04,.18,.32,.46,.30,.12,-.06,-.24,-.42,-.60,-.40,-.20,.00,.22,.44,.66,.88,.66,.44];
const c40=[1,.68,.42,.23,.10,.02,-.04,-.10,-.16,-.10,-.02,.06,.14,.06,-.04,-.14,-.24,-.14,-.04,-.14,-.26,-.38,-.50,-.38,-.26,-.14,-.02,.10,-.02,-.16,-.30,-.44,-.30,-.14,.00,.14,-.02,-.20,-.38,-.56,-.74,-.56,-.36,-.16,-.36,-.58,-.80,-1.02,-.8,-.58,-.36];
const c41=[1,.76,.55,.39,.28,.21,.15,.21,.13,.05,-.03,.05,.13,.21,.29,.19,.09,.19,.29,.39,.29,.17,.05,-.07,.05,.17,.29,.17,.03,-.11,.03,.17,.31,.17,.01,-.15,.01,.17,.33,.49,.33,.15,-.03,-.21,-.03,.17,.37,.57,.37,.17,-.05];
const c42=[1,.69,.44,.26,.13,.05,.11,.03,-.05,-.13,-.21,-.29,-.19,-.09,.01,-.09,-.19,-.29,-.39,-.29,-.17,-.05,-.17,-.29,-.41,-.53,-.41,-.27,-.13,-.27,-.41,-.27,-.13,.01,.15,.01,-.15,-.31,-.47,-.63,-.47,-.29,-.11,-.29,-.49,-.69,-.89,-1.09,-.87,-.65,-.43];
const c43=[1,.73,.51,.35,.24,.17,.23,.29,.21,.13,.05,-.03,.05,.13,.05,-.05,.05,.15,.25,.15,.05,.15,.27,.39,.27,.15,.03,-.09,-.21,-.09,.05,.19,.33,.47,.61,.45,.29,.13,-.03,.13,.31,.49,.67,.49,.29,.09,-.11,.09,.31,.53,.75];
const c44=[1,.65,.39,.21,.09,.03,-.03,.03,.09,.01,-.09,-.19,-.09,.01,.11,.21,.11,.01,-.09,-.19,-.29,-.19,-.07,.05,.17,.05,-.07,-.19,-.31,-.43,-.31,-.17,-.03,-.17,-.31,-.45,-.59,-.43,-.27,-.11,.05,-.13,-.31,-.49,-.31,-.11,.09,-.11,-.33,-.55,-.77];
const d01=[1,.70,.47,.30,.18,.10,.16,.22,.14,.06,-.02,.06,.14,.06,-.04,.04,.12,.04,-.06,.02,.12,.22,.12,.02,-.08,.02,.12,.02,-.10,.00,.10,.22,.10,-.04,.08,.22,.08,-.06,.08,.24,.40,.24,.06,.22,.40,.22,.02,-.18,.02,.24,.46];
const d02=[1,.67,.43,.26,.13,.05,-.01,.05,-.03,-.11,-.05,.03,-.05,-.13,-.05,.05,-.03,-.13,-.21,-.11,-.01,-.11,-.21,-.11,.01,.11,.01,-.11,-.23,-.13,-.01,-.13,-.25,-.37,-.23,-.09,-.21,-.35,-.21,-.05,-.19,-.35,-.51,-.33,-.15,-.33,-.53,-.73,-.51,-.29,-.07];
const d03=[1,.75,.54,.37,.25,.17,.11,.05,.11,.17,.09,.01,.09,.17,.25,.15,.05,.13,.21,.11,.01,-.09,.01,.11,.21,.11,-.01,.09,.19,.29,.17,.05,.17,.29,.41,.27,.13,-.01,.13,.27,.11,-.07,.13,.33,.53,.33,.13,-.07,.15,.37,.59];
const d04=[1,.68,.44,.26,.12,.04,-.04,-.10,-.04,.04,-.04,-.12,-.20,-.12,-.02,-.10,-.18,-.08,.02,-.08,-.18,-.28,-.18,-.06,.06,-.06,-.18,-.30,-.18,-.06,.06,-.08,-.22,-.08,.06,.20,.06,-.10,-.26,-.10,.06,-.12,-.30,-.12,.08,.28,.08,-.14,-.36,-.58,-.36];
const d05=[1,.73,.50,.32,.19,.11,.05,.11,.19,.11,.03,-.05,.03,.11,.19,.27,.17,.07,-.03,.07,.17,.07,-.05,.07,.19,.31,.19,.07,-.05,-.17,-.05,.09,.23,.09,-.05,-.19,-.05,.11,.27,.43,.27,.09,-.09,-.27,-.09,.11,.31,.11,-.11,-.33,-.11];
const d06=[1,.66,.40,.21,.08,-.02,-.08,-.14,-.08,-.16,-.24,-.16,-.06,-.14,-.22,-.30,-.20,-.10,-.18,-.28,-.18,-.06,.06,-.04,-.16,-.28,-.16,-.04,-.16,-.30,-.16,-.02,.12,-.02,-.16,-.32,-.48,-.32,-.16,.00,-.16,-.34,-.52,-.34,-.14,.06,-.14,-.36,-.58,-.80,-.58];
const d07=[1,.77,.56,.40,.28,.20,.14,.20,.26,.18,.10,.18,.26,.34,.24,.14,.04,.12,.22,.12,.02,.12,.24,.36,.24,.12,.00,.12,.26,.40,.26,.12,-.02,.14,.30,.46,.30,.14,-.02,.16,.34,.52,.34,.14,-.06,.14,.36,.58,.36,.14,.36];
const d08=[1,.64,.37,.18,.05,-.05,.01,-.07,-.15,-.07,.01,.09,.01,-.09,-.19,-.09,.01,-.09,-.21,-.11,.01,.13,.01,-.11,-.23,-.35,-.23,-.09,.05,-.09,-.23,-.09,.05,.19,.05,-.11,-.27,-.11,.05,.21,.05,-.13,-.31,-.13,.07,-.13,-.35,-.57,-.35,-.13,.09];
const d09=[1,.72,.48,.30,.17,.09,.03,-.03,.03,.09,.15,.07,-.01,-.09,-.01,.07,.15,.23,.13,.03,-.07,.03,.13,.03,-.09,-.21,-.09,.03,.15,.03,-.11,-.25,-.11,.03,.17,.03,-.13,-.29,-.13,.03,.19,.35,.17,-.01,-.19,-.37,-.17,.05,.27,.05,-.17];
const d10=[1,.70,.46,.28,.16,.08,.14,.20,.12,.04,.12,.20,.28,.18,.08,-.02,.08,.18,.08,-.04,-.16,-.04,.08,.20,.32,.20,.06,-.08,.06,.20,.34,.20,.04,-.12,.04,.20,.36,.52,.36,.18,.00,-.18,.00,.20,.40,.20,-.02,-.24,-.46,-.24,-.02];
const d11=[1,.69,.45,.27,.14,.06,.00,-.06,-.12,-.06,.02,-.06,-.14,-.22,-.14,-.04,.06,-.04,-.14,-.24,-.14,-.02,.10,.22,.10,-.02,-.14,-.02,.12,.26,.12,-.02,-.16,-.30,-.16,-.02,.14,.30,.14,-.04,-.22,-.04,.16,.36,.16,-.04,-.24,-.44,-.24,-.02,.20];
const d12=[1,.74,.52,.35,.23,.15,.21,.13,.05,-.03,.05,.13,.05,-.05,.05,.15,.25,.15,.05,.15,.25,.35,.23,.11,-.01,.11,.23,.11,-.03,-.17,-.03,.11,.25,.39,.25,.09,-.07,-.23,-.07,.09,.25,.41,.57,.39,.21,.03,-.15,.05,.25,.45,.65];
const d13=[1,.65,.39,.20,.07,-.03,-.09,-.03,.03,-.05,-.13,-.21,-.11,-.01,.09,-.01,-.11,-.21,-.31,-.21,-.09,-.19,-.29,-.39,-.27,-.15,-.03,.09,-.03,-.15,-.29,-.43,-.29,-.15,-.01,-.15,-.31,-.47,-.31,-.15,.01,.17,-.01,-.21,-.41,-.61,-.41,-.21,-.01,-.21,-.43];
const d14=[1,.71,.48,.31,.19,.12,.06,.12,.18,.24,.16,.08,.00,.08,.16,.08,-.02,-.12,-.02,.08,.18,.08,-.02,.08,.18,.28,.38,.26,.14,.02,.14,.26,.14,.00,-.14,.00,.14,.28,.42,.26,.10,-.08,-.26,-.08,.12,.32,.52,.32,.10,-.12,.10];
const d15=[1,.76,.55,.38,.26,.18,.12,.06,.00,-.06,.00,.08,.16,.08,-.02,-.10,-.02,.08,.18,.28,.18,.06,-.06,-.18,-.06,.06,.18,.06,-.08,.06,.20,.34,.20,.04,-.12,-.28,-.12,.04,.20,.04,-.14,-.32,-.50,-.30,-.10,.12,.34,.12,-.10,.12,.34];
const d16=[1,.67,.42,.24,.11,.03,.09,.15,.07,-.01,-.09,-.01,.07,-.03,-.13,-.23,-.13,-.03,.07,.17,.07,-.03,-.13,-.03,.09,-.03,-.15,-.27,-.15,-.01,.13,.27,.13,-.01,-.15,-.29,-.43,-.27,-.11,.05,.21,.05,-.13,-.31,-.49,-.29,-.09,.13,.35,.13,-.09];
const d17=[1,.73,.49,.31,.19,.11,.05,-.01,.05,.11,.17,.25,.17,.09,.17,.27,.17,.05,-.05,.05,.15,.05,-.07,-.19,-.07,.05,.17,.29,.41,.29,.15,.01,.15,.29,.15,-.01,-.17,-.33,-.17,-.01,.15,.31,.47,.29,.11,-.07,.13,.33,.53,.73,.53];
const d18=[1,.68,.43,.24,.10,.02,-.04,-.10,-.16,-.22,-.14,-.04,-.14,-.24,-.34,-.24,-.14,-.04,.06,-.04,-.14,-.26,-.14,-.02,-.14,-.28,-.42,-.28,-.14,.00,-.14,-.28,-.42,-.56,-.40,-.24,-.08,.08,-.08,-.26,-.44,-.26,-.06,.14,-.06,-.28,-.50,-.72,-.94,-.72,-.50];
const d19=[1,.72,.50,.33,.21,.13,.19,.25,.17,.09,.01,-.07,.01,.09,.17,.07,-.03,.07,.17,.27,.17,.05,.15,.27,.15,.03,-.09,.03,.15,.29,.43,.29,.15,.29,.43,.57,.41,.25,.09,.25,.43,.25,.05,-.15,.05,.27,.49,.71,.93,.71,.49];
const d20=[1,.63,.35,.14,.00,-.10,-.04,.04,-.04,-.12,-.20,-.12,-.04,-.12,-.22,-.12,-.02,.08,-.02,-.14,-.26,-.14,-.02,.10,-.02,-.14,-.26,-.38,-.26,-.12,.02,.16,.02,-.14,-.30,-.14,.02,-.14,-.32,-.50,-.68,-.48,-.28,-.08,-.28,-.48,-.70,-.48,-.26,-.04,.18];
const individualB = [b01,b02,b03,b04,b05,b06,b07,b08,b09,b10,b11,b12,b13,b14,b15,b16,b17,b18,b19,b20,b21,b22,b23,b24,b25,b26,b27,b28,b29,b30,b31,b32,b33,b34,b35,b36,
 c01,c02,c03,c04,c05,c06,c07,c08,c09,c10,c11,c12,c13,c14,c15,c16,c17,c18,c19,c20,c21,c22,c23,c24,c25,c26,c27,c28,c29,c30,c31,c32,c33,c34,c35,c36,c37,c38,c39,c40,c41,c42,c43,c44,
 d01,d02,d03,d04,d05,d06,d07,d08,d09,d10,d11,d12,d13,d14,d15,d16,d17,d18,d19,d20];

// ---------- styles ----------
const AX = '#262626';
const SANS = '"Liberation Sans", Arial, Helvetica, sans-serif';
const SERIF = '"Liberation Serif", "Times New Roman", serif';
const BLUE = '#0000ff', RED = '#ff0000', GRAY = '#9a9a9a';

function pts(arr){ return lags.map((t,i)=>({x:t, y:arr[i]})); }

function drawParts(ctx, parts, x, y){
  let w = 0;
  parts.forEach(p=>{ ctx.font = p[1]; w += ctx.measureText(p[0]).width; });
  let cx = x - w/2;
  parts.forEach(p=>{ ctx.font = p[1]; ctx.fillText(p[0], cx, y); cx += ctx.measureText(p[0]).width; });
}

const decor = {
  id: 'decor',
  afterDatasetsDraw(chart, args, o){
    const ctx = chart.ctx, a = chart.chartArea, xs = chart.scales.x, ys = chart.scales.y;
    ctx.save();
    ctx.strokeStyle = AX; ctx.lineWidth = 1; ctx.setLineDash([]);
    ctx.beginPath();
    xTicks.forEach(v=>{ const p = Math.round(xs.getPixelForValue(v))+0.5;
      ctx.moveTo(p, a.bottom); ctx.lineTo(p, a.bottom-4);
      ctx.moveTo(p, a.top); ctx.lineTo(p, a.top+4); });
    yTicks.forEach(v=>{ const p = Math.round(ys.getPixelForValue(v))+0.5;
      ctx.moveTo(a.left, p); ctx.lineTo(a.left+4, p);
      ctx.moveTo(a.right, p); ctx.lineTo(a.right-4, p); });
    ctx.stroke();
    ctx.strokeRect(a.left+0.5, a.top+0.5, a.right-a.left, a.bottom-a.top);
    // legend
    const L = o.legend;
    ctx.fillStyle = '#fff';
    ctx.fillRect(L.x+0.5, L.y+0.5, L.w, L.h);
    ctx.strokeStyle = AX; ctx.lineWidth = 1;
    ctx.strokeRect(L.x+0.5, L.y+0.5, L.w, L.h);
    const rows = [
      {c: BLUE, w: 2.5, d: []},
      {c: RED, w: 2.5, d: [8,5]},
      {c: GRAY, w: 1, d: []}
    ];
    rows.forEach((r,i)=>{
      const yy = L.y + 13 + i*22.5;
      ctx.strokeStyle = r.c; ctx.lineWidth = r.w; ctx.setLineDash(r.d);
      ctx.beginPath(); ctx.moveTo(L.x+4.5, yy); ctx.lineTo(L.x+28.5, yy); ctx.stroke();
      ctx.setLineDash([]);
      ctx.fillStyle = '#000'; ctx.font = '17.5px ' + SANS;
      ctx.textAlign = 'left'; ctx.textBaseline = 'middle';
      ctx.fillText(legendLabels[i], L.x+31, yy+0.5);
    });
    // panel label
    ctx.fillStyle = '#000'; ctx.font = '18px ' + SANS;
    ctx.textAlign = 'right'; ctx.textBaseline = 'alphabetic';
    ctx.fillText(o.panel, o.panelX, 26);
    // axis titles
    const N = '18px ' + SANS, I = 'italic 19px ' + SERIF;
    ctx.fillStyle = AX; ctx.textAlign = 'left'; ctx.textBaseline = 'alphabetic';
    drawParts(ctx, [['Lag (', N], ['\u03C4', I], [')', N]], (a.left+a.right)/2, 440);
    ctx.save();
    ctx.translate(o.yTitleX, (a.top+a.bottom)/2);
    ctx.rotate(-Math.PI/2);
    ctx.textBaseline = 'middle';
    drawParts(ctx, [['\u03C1', I], ['(', N], ['\u03C4', I], [')', N]], 0, 0);
    ctx.restore();
    ctx.restore();
  }
};

function makeChart(id, avg, indiv, g){
  const datasets = [];
  datasets.push({label: legendLabels[1], data: pts(avg), borderColor: RED, borderWidth: 2.5,
    borderDash: [8,5], cubicInterpolationMode: 'monotone', order: 0, clip: 0, pointRadius: 0});
  datasets.push({label: legendLabels[0], data: pts(theoretical), borderColor: BLUE, borderWidth: 2.5,
    cubicInterpolationMode: 'monotone', order: 1, clip: 0, pointRadius: 0});
  indiv.forEach(s => datasets.push({label: legendLabels[2], data: pts(s), borderColor: GRAY,
    borderWidth: 1, tension: 0, order: 2, clip: 0, pointRadius: 0}));
  return new Chart(document.getElementById(id), {
    type: 'line',
    data: { datasets },
    plugins: [decor],
    options: {
      responsive: false, maintainAspectRatio: false, animation: false, devicePixelRatio: 1,
      layout: { padding: { left: 0, right: g.padRight, top: 12, bottom: 0 } },
      plugins: { legend: { display: false }, tooltip: { enabled: false },
        decor: { legend: g.legend, panel: g.panel, panelX: g.panelX, yTitleX: g.yTitleX } },
      elements: { line: { borderJoinStyle: 'round' } },
      scales: {
        x: { type: 'linear', min: 0, max: 50,
          afterBuildTicks: s => { s.ticks = xTicks.map(v => ({value: v})); },
          afterFit: s => { s.height = 59; },
          grid: { display: false, drawTicks: false }, border: { display: false },
          ticks: { autoSkip: false, maxRotation: 0, padding: 8, color: AX,
            font: { family: SANS, size: 18 }, callback: (v, i) => xTickLabels[i] } },
        y: { type: 'linear', min: -1, max: 1,
          afterBuildTicks: s => { s.ticks = yTicks.map(v => ({value: v})); },
          afterFit: s => { s.width = g.yWidth; },
          grid: { display: false, drawTicks: false }, border: { display: false },
          ticks: { autoSkip: false, padding: 5, color: AX,
            font: { family: SANS, size: 18 }, callback: (v, i) => yTickLabels[i] } }
      }
    }
  });
}

makeChart('c1', averagedA, individualA, {padRight: 30, yWidth: 66, legend: {x: 182, y: 22, w: 232, h: 69},
  panel: panelLabels[0], panelX: 43.5, yTitleX: 23});
makeChart('c2', averagedB, individualB, {padRight: 15, yWidth: 83, legend: {x: 200, y: 22, w: 232, h: 69},
  panel: panelLabels[1], panelX: 59.5, yTitleX: 37});
</script>
</body></html>
